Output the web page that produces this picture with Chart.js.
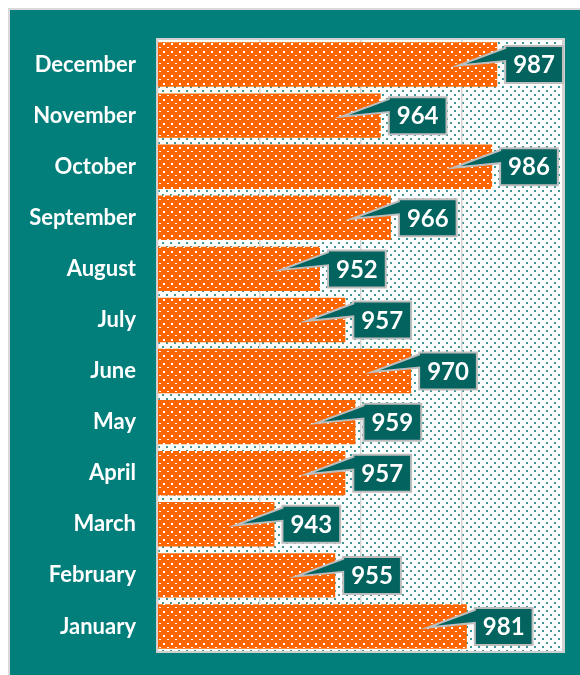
<!DOCTYPE html>
<html>
<head>
<meta charset="utf-8">
<script src="https://cdn.jsdelivr.net/npm/chart.js@4.4.1/dist/chart.umd.min.js"></script>
<style>
    html, body { margin: 0; padding: 0; background: #ffffff; }
    #frame {
        position: absolute;
        left: 8px;
        top: 8px;
        width: 570px;
        height: 665px;
        border-left: 2px solid #d9d9d9;
        border-top: 2px solid #d9d9d9;
        background: #027f7b;
    }
</style>
</head>
<body>
<div id="frame"><canvas id="grafico"></canvas></div>
<script>
const meses = ['January', 'February', 'March', 'April', 'May', 'June',
    'July', 'August', 'September', 'October', 'November', 'December'];
const valores = [981, 955, 943, 957, 959, 970, 957, 952, 966, 986, 964, 987];
const eixoMin = 920;
const eixoMax = 1000;
const eixoPasso = 20;

const fonte = 'Lato, "Open Sans", sans-serif';

function criarPadrao(fundo, cor, pontos, tam) {
    const c = document.createElement('canvas');
    c.width = tam;
    c.height = tam;
    const g = c.getContext('2d');
    g.fillStyle = fundo;
    g.fillRect(0, 0, tam, tam);
    g.fillStyle = cor;
    pontos.forEach(p => g.fillRect(p[0], p[1], p[2], p[3]));
    return g.createPattern(c, 'repeat');
}

const ctx = document.getElementById('grafico').getContext('2d');
const padraoFundo = criarPadrao('#ffffff', '#3c9995', [[0, 0, 2, 2], [4, 4, 2, 2]], 8);
const padraoBarra = criarPadrao('#ff6600', '#ffffff', [[1, 1, 2, 2], [5, 5, 2, 1]], 8);

// fundo pontilhado da area do grafico
const fundoPlot = {
    id: 'fundoPlot',
    beforeDraw(chart) {
        const a = chart.chartArea;
        const c = chart.ctx;
        c.save();
        c.fillStyle = padraoFundo;
        c.fillRect(a.left, a.top, a.right - a.left, a.bottom - a.top);
        c.strokeStyle = '#d0d0d0';
        c.lineWidth = 2;
        c.strokeRect(a.left - 1, a.top, a.right - a.left + 2, a.bottom - a.top);
        c.restore();
    }
};

// rotulos em caixa com ponteiro
const rotulos = {
    id: 'rotulos',
    afterDatasetsDraw(chart) {
        const c = chart.ctx;
        const meta = chart.getDatasetMeta(0);
        c.save();
        c.font = 'bold 24px ' + fonte;
        c.textAlign = 'center';
        c.textBaseline = 'middle';
        meta.data.forEach((bar, i) => {
            const txt = String(valores[i]);
            const w = c.measureText(txt).width + 16;
            const h = 37;
            const x0 = bar.x + 8;
            const y0 = bar.y - h / 2;
            c.beginPath();
            c.moveTo(x0, y0);
            c.lineTo(x0 + w, y0);
            c.lineTo(x0 + w, y0 + h);
            c.lineTo(x0, y0 + h);
            c.lineTo(x0, y0 + 15);
            c.lineTo(bar.x - 39, bar.y + 1);
            c.lineTo(x0, y0 + 2);
            c.closePath();
            c.fillStyle = '#02635f';
            c.fill();
            c.strokeStyle = '#bdbdbd';
            c.lineWidth = 2;
            c.stroke();
            c.fillStyle = '#ffffff';
            c.fillText(txt, x0 + w / 2, bar.y + 1);
        });
        c.restore();
    }
};

new Chart(ctx, {
    type: 'bar',
    data: {
        labels: meses,
        datasets: [{
            data: valores,
            backgroundColor: padraoBarra,
            borderWidth: 0,
            categoryPercentage: 1,
            barPercentage: 0.87
        }]
    },
    options: {
        indexAxis: 'y',
        responsive: true,
        maintainAspectRatio: false,
        animation: false,
        layout: { padding: { top: 29, right: 17, bottom: 23, left: 0 } },
        plugins: {
            legend: { display: false },
            tooltip: { enabled: false }
        },
        scales: {
            x: {
                min: eixoMin,
                max: eixoMax,
                ticks: { display: false, stepSize: eixoPasso },
                grid: { color: '#d3d3d3', lineWidth: 1.5, drawTicks: false },
                border: { display: false }
            },
            y: {
                reverse: true,
                afterFit(scale) {
                    scale.width = 148;
                    scale.paddingTop = 0;
                    scale.paddingBottom = 0;
                },
                ticks: {
                    color: '#ffffff',
                    padding: 22,
                    font: { family: fonte, size: 22, weight: 'bold' }
                },
                grid: { display: false, drawTicks: false },
                border: { display: false }
            }
        }
    },
    plugins: [fundoPlot, rotulos]
});
</script>
</body>
</html>
